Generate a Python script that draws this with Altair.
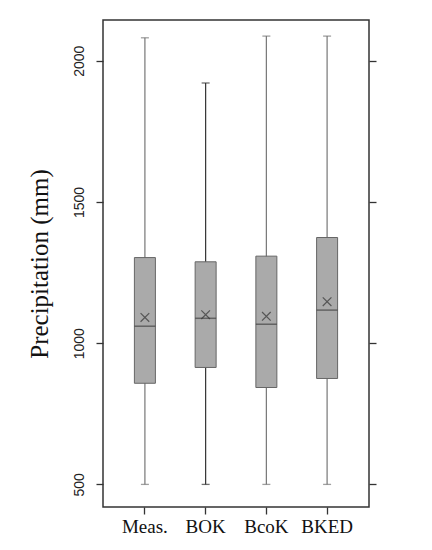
import altair as alt
import pandas as pd

cats = ["Meas.", "BOK", "BcoK", "BKED"]
lower = [500, 500, 500, 500]
q1 = [858, 914, 843, 875]
median = [1060, 1088, 1067, 1117]
q3 = [1303, 1288, 1308, 1374]
upper = [2081, 1921, 2087, 2087]
mean = [1091, 1101, 1095, 1147]
y_ticks = [500, 1000, 1500, 2000]

df = pd.DataFrame({"cat": cats, "lower": lower, "q1": q1, "median": median,
                   "q3": q3, "upper": upper, "mean": mean})

yscale = alt.Scale(domain=[420, 2144], nice=False, zero=False)

x_enc = alt.X("cat:N", sort=cats, title=None,
              scale=alt.Scale(paddingInner=0.5, paddingOuter=0.44),
              axis=alt.Axis(labelAngle=0, labelFont="Liberation Serif", labelFontSize=19,
                            labelColor="#111", tickSize=7, tickColor="#333", domain=False,
                            labelPadding=3, tickWidth=1.3))

base = alt.Chart(df).encode(x=x_enc)

left_axis = alt.Axis(values=y_ticks, format="d", labelAngle=-90, labelAlign="center",
                     labelBaseline="bottom",
                     labelFont="Liberation Sans", labelFontSize=14, labelColor="#222",
                     tickSize=7, tickColor="#333", tickWidth=1.3, labelPadding=10,
                     domain=False, grid=False, title="Precipitation (mm)",
                     titleFont="Liberation Serif", titleFontSize=25, titleFontWeight="normal",
                     titleColor="#111", titlePadding=20)
right_axis = alt.Axis(values=y_ticks, orient="right", labels=False, tickSize=7,
                      tickColor="#333", tickWidth=1.3, domain=False, grid=False, title=None)

wcolor = alt.condition(alt.datum.cat == "BOK", alt.value("#333333"), alt.value("#777777"))

whisker = base.mark_rule(strokeWidth=1.2).encode(
    y=alt.Y("lower:Q", scale=yscale, axis=left_axis),
    y2="upper:Q",
    color=wcolor,
)
cap_lo = base.mark_tick(size=8, thickness=1.3).encode(
    y=alt.Y("lower:Q", scale=yscale, axis=None), color=wcolor)
cap_hi = base.mark_tick(size=8, thickness=1.3).encode(
    y=alt.Y("upper:Q", scale=yscale, axis=None), color=wcolor)
box = base.mark_bar(size=21, fill="#aaaaaa", stroke="#666666", strokeWidth=1).encode(
    y=alt.Y("q1:Q", scale=yscale, axis=None), y2="q3:Q")
med = base.mark_tick(size=21, thickness=1.5, color="#444444").encode(
    y=alt.Y("median:Q", scale=yscale, axis=right_axis))
mn = base.mark_point(shape="M-1,-1L1,1M1,-1L-1,1", size=75, filled=False,
                     color="#333333", strokeWidth=1.2).encode(
    y=alt.Y("mean:Q", scale=yscale, axis=None))

chart = alt.layer(whisker, cap_lo, cap_hi, box, med, mn).resolve_axis(y="independent").properties(
    width=266, height=487,
    autosize=alt.AutoSizeParams(type="none"),
    padding={"left": 95, "top": 12, "right": 40, "bottom": 35},
    background="white",
).configure_view(stroke="#333333", strokeWidth=1.5)

chart.save("out.html", embed_options={"renderer": "svg", "actions": False})
